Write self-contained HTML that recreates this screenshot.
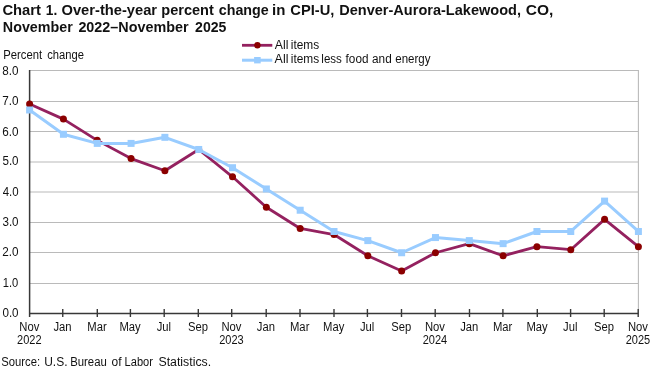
<!DOCTYPE html><html><head><meta charset="utf-8"><style>html,body{margin:0;padding:0;background:#fff;width:660px;height:369px;overflow:hidden}</style></head><body><svg width="660" height="369" viewBox="0 0 660 369" style="display:block;will-change:transform">
<rect width="660" height="369" fill="#fff"/>
<text x="2.41" y="15" font-family="Liberation Sans" font-size="14" font-weight="bold" fill="#111" textLength="38.56" lengthAdjust="spacingAndGlyphs">Chart</text>
<text x="45.87" y="15" font-family="Liberation Sans" font-size="14" font-weight="bold" fill="#111" textLength="11.47" lengthAdjust="spacingAndGlyphs">1.</text>
<text x="61.51" y="15" font-family="Liberation Sans" font-size="14" font-weight="bold" fill="#111" textLength="95.58" lengthAdjust="spacingAndGlyphs">Over-the-year</text>
<text x="161.25" y="15" font-family="Liberation Sans" font-size="14" font-weight="bold" fill="#111" textLength="52.53" lengthAdjust="spacingAndGlyphs">percent</text>
<text x="218.73" y="15" font-family="Liberation Sans" font-size="14" font-weight="bold" fill="#111" textLength="49.99" lengthAdjust="spacingAndGlyphs">change</text>
<text x="272.05" y="15" font-family="Liberation Sans" font-size="14" font-weight="bold" fill="#111" textLength="13.33" lengthAdjust="spacingAndGlyphs">in</text>
<text x="290.31" y="15" font-family="Liberation Sans" font-size="14" font-weight="bold" fill="#111" textLength="44.01" lengthAdjust="spacingAndGlyphs">CPI-U,</text>
<text x="339.26" y="15" font-family="Liberation Sans" font-size="14" font-weight="bold" fill="#111" textLength="181.73" lengthAdjust="spacingAndGlyphs">Denver-Aurora-Lakewood,</text>
<text x="525.78" y="15" font-family="Liberation Sans" font-size="14" font-weight="bold" fill="#111" textLength="27.57" lengthAdjust="spacingAndGlyphs">CO,</text>
<text x="2.87" y="31.5" font-family="Liberation Sans" font-size="14" font-weight="bold" fill="#111" textLength="69.85" lengthAdjust="spacingAndGlyphs">November</text>
<text x="78.40" y="31.5" font-family="Liberation Sans" font-size="14" font-weight="bold" fill="#111" textLength="110.14" lengthAdjust="spacingAndGlyphs">2022–November</text>
<text x="195.11" y="31.5" font-family="Liberation Sans" font-size="14" font-weight="bold" fill="#111" textLength="31.34" lengthAdjust="spacingAndGlyphs">2025</text>
<text x="3.20" y="58.7" font-family="Liberation Sans" font-size="12" fill="#111" textLength="38.87" lengthAdjust="spacingAndGlyphs">Percent</text>
<text x="47.25" y="58.7" font-family="Liberation Sans" font-size="12" fill="#111" textLength="36.76" lengthAdjust="spacingAndGlyphs">change</text>
<line x1="29.6" y1="283.500" x2="638.4" y2="283.500" stroke="#bababa" stroke-width="1.1"/>
<line x1="29.6" y1="252.500" x2="638.4" y2="252.500" stroke="#bababa" stroke-width="1.1"/>
<line x1="29.6" y1="222.500" x2="638.4" y2="222.500" stroke="#bababa" stroke-width="1.1"/>
<line x1="29.6" y1="192.000" x2="638.4" y2="192.000" stroke="#bababa" stroke-width="1.1"/>
<line x1="29.6" y1="162.000" x2="638.4" y2="162.000" stroke="#bababa" stroke-width="1.1"/>
<line x1="29.6" y1="131.500" x2="638.4" y2="131.500" stroke="#bababa" stroke-width="1.1"/>
<line x1="29.6" y1="101.500" x2="638.4" y2="101.500" stroke="#bababa" stroke-width="1.1"/>
<line x1="29.6" y1="70.500" x2="638.4" y2="70.500" stroke="#bababa" stroke-width="1.1"/>
<line x1="638.4" y1="70.00" x2="638.4" y2="313.5" stroke="#bababa" stroke-width="1.1"/>
<line x1="29.6" y1="70.00" x2="29.6" y2="317" stroke="#383838" stroke-width="1.5"/>
<line x1="29.6" y1="313.5" x2="638.4" y2="313.5" stroke="#383838" stroke-width="1.7"/>
<line x1="62.75" y1="309" x2="62.75" y2="317" stroke="#383838" stroke-width="1.4"/>
<line x1="97.30" y1="309" x2="97.30" y2="317" stroke="#383838" stroke-width="1.4"/>
<line x1="130.40" y1="309" x2="130.40" y2="317" stroke="#383838" stroke-width="1.4"/>
<line x1="164.20" y1="309" x2="164.20" y2="317" stroke="#383838" stroke-width="1.4"/>
<line x1="198.30" y1="309" x2="198.30" y2="317" stroke="#383838" stroke-width="1.4"/>
<line x1="231.70" y1="309" x2="231.70" y2="317" stroke="#383838" stroke-width="1.4"/>
<line x1="266.20" y1="309" x2="266.20" y2="317" stroke="#383838" stroke-width="1.4"/>
<line x1="300.00" y1="309" x2="300.00" y2="317" stroke="#383838" stroke-width="1.4"/>
<line x1="334.00" y1="309" x2="334.00" y2="317" stroke="#383838" stroke-width="1.4"/>
<line x1="367.40" y1="309" x2="367.40" y2="317" stroke="#383838" stroke-width="1.4"/>
<line x1="401.50" y1="309" x2="401.50" y2="317" stroke="#383838" stroke-width="1.4"/>
<line x1="435.20" y1="309" x2="435.20" y2="317" stroke="#383838" stroke-width="1.4"/>
<line x1="469.50" y1="309" x2="469.50" y2="317" stroke="#383838" stroke-width="1.4"/>
<line x1="502.90" y1="309" x2="502.90" y2="317" stroke="#383838" stroke-width="1.4"/>
<line x1="537.30" y1="309" x2="537.30" y2="317" stroke="#383838" stroke-width="1.4"/>
<line x1="570.60" y1="309" x2="570.60" y2="317" stroke="#383838" stroke-width="1.4"/>
<line x1="604.20" y1="309" x2="604.20" y2="317" stroke="#383838" stroke-width="1.4"/>
<line x1="638.20" y1="309" x2="638.20" y2="317" stroke="#383838" stroke-width="1.4"/>
<text x="2.43" y="316.8" font-family="Liberation Sans" font-size="12.5" fill="#111" textLength="16.17" lengthAdjust="spacingAndGlyphs">0.0</text>
<text x="2.76" y="286.6" font-family="Liberation Sans" font-size="12.5" fill="#111" textLength="15.53" lengthAdjust="spacingAndGlyphs">1.0</text>
<text x="2.31" y="256.4" font-family="Liberation Sans" font-size="12.5" fill="#111" textLength="16.30" lengthAdjust="spacingAndGlyphs">2.0</text>
<text x="2.43" y="225.5" font-family="Liberation Sans" font-size="12.5" fill="#111" textLength="16.17" lengthAdjust="spacingAndGlyphs">3.0</text>
<text x="2.67" y="196.0" font-family="Liberation Sans" font-size="12.5" fill="#111" textLength="15.93" lengthAdjust="spacingAndGlyphs">4.0</text>
<text x="2.43" y="165.0" font-family="Liberation Sans" font-size="12.5" fill="#111" textLength="16.17" lengthAdjust="spacingAndGlyphs">5.0</text>
<text x="2.31" y="135.6" font-family="Liberation Sans" font-size="12.5" fill="#111" textLength="16.30" lengthAdjust="spacingAndGlyphs">6.0</text>
<text x="2.31" y="104.8" font-family="Liberation Sans" font-size="12.5" fill="#111" textLength="16.30" lengthAdjust="spacingAndGlyphs">7.0</text>
<text x="2.37" y="75.0" font-family="Liberation Sans" font-size="12.5" fill="#111" textLength="16.24" lengthAdjust="spacingAndGlyphs">8.0</text>
<text x="29.30" y="331.2" font-family="Liberation Sans" font-size="12.5" fill="#111" text-anchor="middle" textLength="20.01" lengthAdjust="spacingAndGlyphs">Nov</text>
<text x="29.30" y="344.2" font-family="Liberation Sans" font-size="12.5" fill="#111" text-anchor="middle" textLength="24.47" lengthAdjust="spacingAndGlyphs">2022</text>
<text x="62.45" y="331.2" font-family="Liberation Sans" font-size="12.5" fill="#111" text-anchor="middle" textLength="18.14" lengthAdjust="spacingAndGlyphs">Jan</text>
<text x="97.00" y="331.2" font-family="Liberation Sans" font-size="12.5" fill="#111" text-anchor="middle" textLength="19.38" lengthAdjust="spacingAndGlyphs">Mar</text>
<text x="130.10" y="331.2" font-family="Liberation Sans" font-size="12.5" fill="#111" text-anchor="middle" textLength="21.25" lengthAdjust="spacingAndGlyphs">May</text>
<text x="163.90" y="331.2" font-family="Liberation Sans" font-size="12.5" fill="#111" text-anchor="middle" textLength="14.38" lengthAdjust="spacingAndGlyphs">Jul</text>
<text x="198.00" y="331.2" font-family="Liberation Sans" font-size="12.5" fill="#111" text-anchor="middle" textLength="20.02" lengthAdjust="spacingAndGlyphs">Sep</text>
<text x="231.40" y="331.2" font-family="Liberation Sans" font-size="12.5" fill="#111" text-anchor="middle" textLength="20.01" lengthAdjust="spacingAndGlyphs">Nov</text>
<text x="231.40" y="344.2" font-family="Liberation Sans" font-size="12.5" fill="#111" text-anchor="middle" textLength="24.47" lengthAdjust="spacingAndGlyphs">2023</text>
<text x="265.90" y="331.2" font-family="Liberation Sans" font-size="12.5" fill="#111" text-anchor="middle" textLength="18.14" lengthAdjust="spacingAndGlyphs">Jan</text>
<text x="299.70" y="331.2" font-family="Liberation Sans" font-size="12.5" fill="#111" text-anchor="middle" textLength="19.38" lengthAdjust="spacingAndGlyphs">Mar</text>
<text x="333.70" y="331.2" font-family="Liberation Sans" font-size="12.5" fill="#111" text-anchor="middle" textLength="21.25" lengthAdjust="spacingAndGlyphs">May</text>
<text x="367.10" y="331.2" font-family="Liberation Sans" font-size="12.5" fill="#111" text-anchor="middle" textLength="14.38" lengthAdjust="spacingAndGlyphs">Jul</text>
<text x="401.20" y="331.2" font-family="Liberation Sans" font-size="12.5" fill="#111" text-anchor="middle" textLength="20.02" lengthAdjust="spacingAndGlyphs">Sep</text>
<text x="434.90" y="331.2" font-family="Liberation Sans" font-size="12.5" fill="#111" text-anchor="middle" textLength="20.01" lengthAdjust="spacingAndGlyphs">Nov</text>
<text x="434.90" y="344.2" font-family="Liberation Sans" font-size="12.5" fill="#111" text-anchor="middle" textLength="24.47" lengthAdjust="spacingAndGlyphs">2024</text>
<text x="469.20" y="331.2" font-family="Liberation Sans" font-size="12.5" fill="#111" text-anchor="middle" textLength="18.14" lengthAdjust="spacingAndGlyphs">Jan</text>
<text x="502.60" y="331.2" font-family="Liberation Sans" font-size="12.5" fill="#111" text-anchor="middle" textLength="19.38" lengthAdjust="spacingAndGlyphs">Mar</text>
<text x="537.00" y="331.2" font-family="Liberation Sans" font-size="12.5" fill="#111" text-anchor="middle" textLength="21.25" lengthAdjust="spacingAndGlyphs">May</text>
<text x="570.30" y="331.2" font-family="Liberation Sans" font-size="12.5" fill="#111" text-anchor="middle" textLength="14.38" lengthAdjust="spacingAndGlyphs">Jul</text>
<text x="603.90" y="331.2" font-family="Liberation Sans" font-size="12.5" fill="#111" text-anchor="middle" textLength="20.02" lengthAdjust="spacingAndGlyphs">Sep</text>
<text x="637.90" y="331.2" font-family="Liberation Sans" font-size="12.5" fill="#111" text-anchor="middle" textLength="20.01" lengthAdjust="spacingAndGlyphs">Nov</text>
<text x="637.90" y="344.2" font-family="Liberation Sans" font-size="12.5" fill="#111" text-anchor="middle" textLength="24.47" lengthAdjust="spacingAndGlyphs">2025</text>
<text x="1.29" y="366.3" font-family="Liberation Sans" font-size="12" fill="#111" textLength="38.84" lengthAdjust="spacingAndGlyphs">Source:</text>
<text x="44.20" y="366.3" font-family="Liberation Sans" font-size="12" fill="#111" textLength="23.34" lengthAdjust="spacingAndGlyphs">U.S.</text>
<text x="70.19" y="366.3" font-family="Liberation Sans" font-size="12" fill="#111" textLength="36.65" lengthAdjust="spacingAndGlyphs">Bureau</text>
<text x="111.52" y="366.3" font-family="Liberation Sans" font-size="12" fill="#111" textLength="9.97" lengthAdjust="spacingAndGlyphs">of</text>
<text x="124.62" y="366.3" font-family="Liberation Sans" font-size="12" fill="#111" textLength="28.28" lengthAdjust="spacingAndGlyphs">Labor</text>
<text x="158.45" y="366.3" font-family="Liberation Sans" font-size="12" fill="#111" textLength="52.71" lengthAdjust="spacingAndGlyphs">Statistics.</text>
<polyline points="29.60,103.91 63.42,119.10 97.24,140.36 131.07,158.59 164.89,170.74 198.71,149.47 232.53,176.81 266.36,207.19 300.18,228.45 334.00,234.52 367.82,255.79 401.64,270.98 435.47,252.75 469.29,243.64 503.11,255.79 536.93,246.68 570.76,249.71 604.58,219.34 638.40,246.68" fill="none" stroke="#94215f" stroke-width="2.8" stroke-linejoin="round"/>
<circle cx="29.60" cy="103.91" r="3.5" fill="#8b0000"/>
<circle cx="63.42" cy="119.10" r="3.5" fill="#8b0000"/>
<circle cx="97.24" cy="140.36" r="3.5" fill="#8b0000"/>
<circle cx="131.07" cy="158.59" r="3.5" fill="#8b0000"/>
<circle cx="164.89" cy="170.74" r="3.5" fill="#8b0000"/>
<circle cx="198.71" cy="149.47" r="3.5" fill="#8b0000"/>
<circle cx="232.53" cy="176.81" r="3.5" fill="#8b0000"/>
<circle cx="266.36" cy="207.19" r="3.5" fill="#8b0000"/>
<circle cx="300.18" cy="228.45" r="3.5" fill="#8b0000"/>
<circle cx="334.00" cy="234.52" r="3.5" fill="#8b0000"/>
<circle cx="367.82" cy="255.79" r="3.5" fill="#8b0000"/>
<circle cx="401.64" cy="270.98" r="3.5" fill="#8b0000"/>
<circle cx="435.47" cy="252.75" r="3.5" fill="#8b0000"/>
<circle cx="469.29" cy="243.64" r="3.5" fill="#8b0000"/>
<circle cx="503.11" cy="255.79" r="3.5" fill="#8b0000"/>
<circle cx="536.93" cy="246.68" r="3.5" fill="#8b0000"/>
<circle cx="570.76" cy="249.71" r="3.5" fill="#8b0000"/>
<circle cx="604.58" cy="219.34" r="3.5" fill="#8b0000"/>
<circle cx="638.40" cy="246.68" r="3.5" fill="#8b0000"/>
<polyline points="29.60,109.99 63.42,134.29 97.24,143.40 131.07,143.40 164.89,137.33 198.71,149.47 232.53,167.70 266.36,188.96 300.18,210.23 334.00,231.49 367.82,240.60 401.64,252.75 435.47,237.56 469.29,240.60 503.11,243.64 536.93,231.49 570.76,231.49 604.58,201.11 638.40,231.49" fill="none" stroke="#99ccff" stroke-width="3" stroke-linejoin="round"/>
<rect x="26.10" y="106.49" width="7" height="7" fill="#99ccff"/>
<rect x="59.92" y="130.79" width="7" height="7" fill="#99ccff"/>
<rect x="93.74" y="139.90" width="7" height="7" fill="#99ccff"/>
<rect x="127.57" y="139.90" width="7" height="7" fill="#99ccff"/>
<rect x="161.39" y="133.83" width="7" height="7" fill="#99ccff"/>
<rect x="195.21" y="145.97" width="7" height="7" fill="#99ccff"/>
<rect x="229.03" y="164.20" width="7" height="7" fill="#99ccff"/>
<rect x="262.86" y="185.46" width="7" height="7" fill="#99ccff"/>
<rect x="296.68" y="206.73" width="7" height="7" fill="#99ccff"/>
<rect x="330.50" y="227.99" width="7" height="7" fill="#99ccff"/>
<rect x="364.32" y="237.10" width="7" height="7" fill="#99ccff"/>
<rect x="398.14" y="249.25" width="7" height="7" fill="#99ccff"/>
<rect x="431.97" y="234.06" width="7" height="7" fill="#99ccff"/>
<rect x="465.79" y="237.10" width="7" height="7" fill="#99ccff"/>
<rect x="499.61" y="240.14" width="7" height="7" fill="#99ccff"/>
<rect x="533.43" y="227.99" width="7" height="7" fill="#99ccff"/>
<rect x="567.26" y="227.99" width="7" height="7" fill="#99ccff"/>
<rect x="601.08" y="197.61" width="7" height="7" fill="#99ccff"/>
<rect x="634.90" y="227.99" width="7" height="7" fill="#99ccff"/>
<line x1="242" y1="45.3" x2="272.3" y2="45.3" stroke="#94215f" stroke-width="2.8"/>
<circle cx="257.4" cy="45.3" r="3.2" fill="#8b0000"/>
<line x1="242" y1="60.2" x2="272.3" y2="60.2" stroke="#99ccff" stroke-width="3"/>
<rect x="254.1" y="57" width="6.6" height="6.4" fill="#99ccff"/>
<text x="274.80" y="49.2" font-family="Liberation Sans" font-size="12" fill="#111" textLength="13.61" lengthAdjust="spacingAndGlyphs">All</text>
<text x="290.83" y="49.2" font-family="Liberation Sans" font-size="12" fill="#111" textLength="28.38" lengthAdjust="spacingAndGlyphs">items</text>
<text x="274.60" y="63.2" font-family="Liberation Sans" font-size="12" fill="#111" textLength="13.83" lengthAdjust="spacingAndGlyphs">All</text>
<text x="290.83" y="63.2" font-family="Liberation Sans" font-size="12" fill="#111" textLength="28.38" lengthAdjust="spacingAndGlyphs">items</text>
<text x="321.35" y="63.2" font-family="Liberation Sans" font-size="12" fill="#111" textLength="20.54" lengthAdjust="spacingAndGlyphs">less</text>
<text x="345.62" y="63.2" font-family="Liberation Sans" font-size="12" fill="#111" textLength="22.86" lengthAdjust="spacingAndGlyphs">food</text>
<text x="372.03" y="63.2" font-family="Liberation Sans" font-size="12" fill="#111" textLength="19.68" lengthAdjust="spacingAndGlyphs">and</text>
<text x="395.24" y="63.2" font-family="Liberation Sans" font-size="12" fill="#111" textLength="35.23" lengthAdjust="spacingAndGlyphs">energy</text>
</svg></body></html>
